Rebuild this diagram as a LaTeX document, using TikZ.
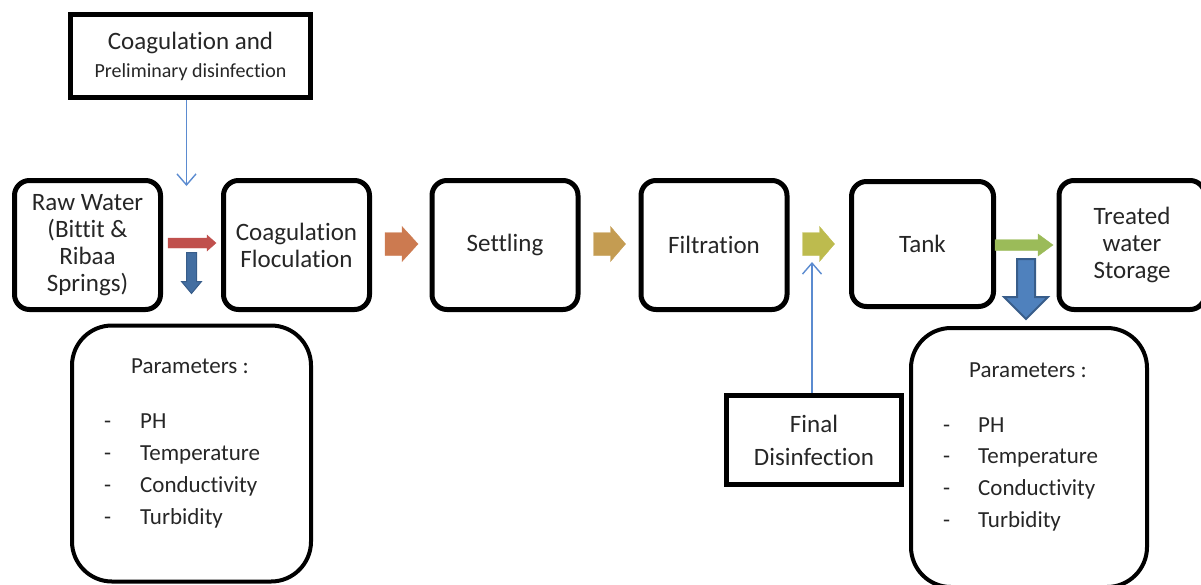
\documentclass[tikz,border=0pt]{standalone}
\usepackage{fontspec}
\setmainfont{Carlito}[RawFeature={-liga;-clig;-calt;-dlig}]
\usetikzlibrary{arrows.meta,calc}
\definecolor{txt}{HTML}{262626}
\definecolor{cred}{HTML}{C0504D}
\definecolor{corange}{HTML}{CC7A50}
\definecolor{ctan}{HTML}{C49C52}
\definecolor{colive}{HTML}{BDBB4E}
\definecolor{cgreen}{HTML}{9BBB59}
\definecolor{cblue}{HTML}{4F81BD}
\definecolor{cbluedark}{HTML}{385D8A}
\definecolor{cthin}{HTML}{5B8BD0}
% horizontal block arrow: style, start, length, shaft half, head half, head length
\newcommand\hblk[6]{\filldraw[#1] (#2) ++(0,-#4) -- ++({#3-#6},0) -- ++(0,{#4-#5}) -- ++(#6,#5) -- ++(-#6,#5) -- ++(0,{#4-#5}) -- ++({#6-#3},0) -- cycle;}
% vertical (downward) block arrow
\newcommand\vblk[6]{\filldraw[#1] (#2) ++(-#4,0) -- ++(0,{#3-#6}) -- ++({#4-#5},0) -- ++(#5,#6) -- ++(#5,-#6) -- ++({#4-#5},0) -- ++(0,{#6-#3}) -- cycle;}
\begin{document}
\begin{tikzpicture}[x=1pt,y=-1pt,
  stepbox/.style={draw=black, line width=5pt, rounded corners=15pt, minimum width=146pt, minimum height=129pt,
    align=center, inner sep=0pt, text=txt, font=\fontsize{25}{27}\selectfont},
  sharpbox/.style={draw=black, line width=5pt, align=center, inner sep=0pt, text=txt},
  parbox/.style={draw=black, line width=4pt, rounded corners=40pt, inner sep=0pt},
  ptext/.style={text=txt, font=\fontsize{23}{27}\selectfont, inner sep=0pt},
  thinblue/.style={draw=cthin, line width=1.4pt, -{Straight Barb[length=11pt,width=19pt,line width=1.4pt]}}]
\useasboundingbox (0,0) rectangle (1201,584);

% process boxes
\node[stepbox] (raw) at (87.5,245) {Raw Water\\(Bittit \&\\Ribaa\\Springs)};
\node[stepbox] (coag) at (296.5,245) {Coagulation\\Floculation};
\node[stepbox] (settl) at (505,245) {Settling};
\node[stepbox] (filt) at (714,245) {Filtration};
\node[stepbox, minimum width=142pt, minimum height=125pt] (tank) at (922.5,244) {Tank};
\node[stepbox] (treat) at (1132,245) {Treated\\water\\Storage};

% top box
\node[sharpbox, minimum width=240pt, minimum height=83pt, font=\fontsize{25}{30}\selectfont] (top) at (190.5,56)
  {Coagulation and\\[-2pt]{\fontsize{20}{24}\selectfont Preliminary disinfection}};

% final disinfection
\node[sharpbox, minimum width=175pt, minimum height=89pt, font=\fontsize{25}{33}\selectfont] (fin) at (814,440)
  {Final\\Disinfection};

% parameter boxes
\node[parbox, minimum width=239pt, minimum height=256pt] (parL) at (191.5,453.5) {};
\node[parbox, minimum width=236pt, minimum height=259pt] (parR) at (1029,457.5) {};

% parameter texts
\node[ptext, anchor=base] (pLh) at (190,373) {Parameters :};
\node[ptext, anchor=base] (pRh) at (1028,377) {Parameters :};
\foreach \t [count=\i] in {PH,Temperature,Conductivity,Turbidity}{
  \pgfmathsetmacro\yl{428+32*(\i-1)}
  \pgfmathsetmacro\yr{432+31.7*(\i-1)}
  \node[ptext, anchor=base west] (pLd\i) at (104,\yl) {-};
  \node[ptext, anchor=base west] (pLt\i) at (140,\yl) {\t};
  \node[ptext, anchor=base west] (pRd\i) at (943,\yr) {-};
  \node[ptext, anchor=base west] (pRt\i) at (978,\yr) {\t};
}

% block arrows between steps
\hblk{cred}{$(raw.east)+(5,-2)$}{48}{5}{8}{9}
\hblk{corange}{$(coag.east)+(13,-1)$}{33}{11.5}{17.5}{16}
\hblk{ctan}{$(settl.east)+(13,-1)$}{32}{11.5}{17.5}{15}
\hblk{colive}{$(filt.east)+(13,-1)$}{32}{11.5}{17.5}{15}
\hblk{cgreen}{$(tank.east)+(-1,1)$}{58}{5.5}{11}{15}

% downward block arrows to parameter boxes
\vblk{fill=cblue!85!black, draw=cbluedark, line width=1pt}{$(parL.north)+(0,-71)$}{41}{5}{10}{12}
\vblk{fill=cblue, draw=cbluedark, line width=2pt}{$(parR.north)+(-3,-67)$}{60}{9}{22}{22}

% thin feed arrows
\draw[thinblue] ([xshift=-4pt]top.south) -- ++(0,86);
\draw[thinblue] ([xshift=-2pt]fin.north) -- ++(0,-131);
\end{tikzpicture}
\end{document}
